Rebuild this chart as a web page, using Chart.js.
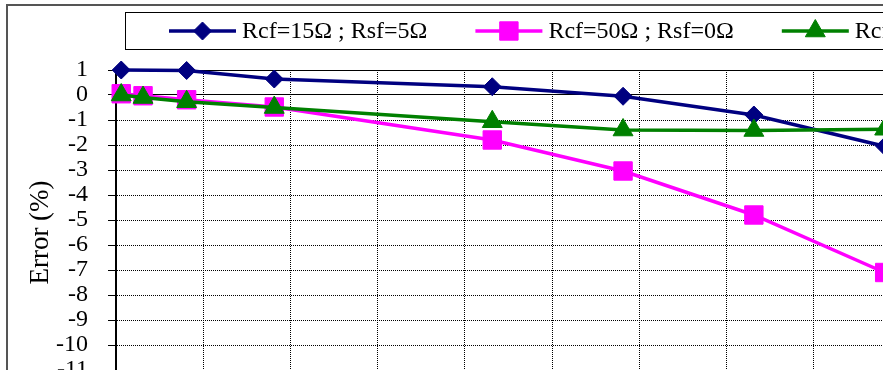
<!DOCTYPE html>
<html>
<head>
<meta charset="utf-8">
<script src="https://cdn.jsdelivr.net/npm/chart.js"></script>
<style>
  html, body { margin: 0; padding: 0; background: #fff; overflow: hidden; }
  canvas { display: block; }
</style>
</head>
<body>
<canvas id="errorChart" width="1009" height="440"></canvas>
<script>
// values: x along the horizontal axis, error in %
const xAll = [1.2, 6.2, 16.2, 36.3, 86.3, 116.3, 146.3, 176.3];
const xBlue = [1.2, 16.2, 36.3, 86.3, 116.3, 146.3, 176.3];
const errBlue = [1.0, 0.98, 0.64, 0.33, -0.05, -0.8, -2.05];
const errPink = [0.05, -0.03, -0.19, -0.48, -1.8, -3.04, -4.8, -7.1];
const errGreen = [0.0, -0.1, -0.27, -0.5, -1.07, -1.4, -1.42, -1.37];
const seriesLabels = ['Rcf=15\u03A9 ; Rsf=5\u03A9', 'Rcf=50\u03A9 ; Rsf=0\u03A9', 'Rcf=50\u03A9 ; Rsf=5\u03A9'];
const yMin = -12, yMax = 1, yStep = 1;
const xMin = 0, xMax = 200, xStep = 20;

const toPoints = (xs, ys) => xs.map((x, i) => ({ x: x, y: ys[i] }));

Chart.defaults.font.family = "'Liberation Serif', 'Times New Roman', serif";
Chart.defaults.color = '#000';

// white page + the grey frame of the chart object
const frame = {
    id: 'frame',
    beforeDraw(chart) {
        const ctx = chart.ctx;
        ctx.save();
        ctx.fillStyle = '#fff';
        ctx.fillRect(0, 0, chart.width, chart.height);
        ctx.strokeStyle = '#555';
        ctx.lineWidth = 2;
        ctx.strokeRect(7, 5, 3000, 3000);
        ctx.restore();
    }
};

// boxed legend on top, line + marker + label per series
const legendBox = {
    id: 'legendBox',
    afterDraw(chart) {
        const ctx = chart.ctx;
        ctx.save();
        ctx.strokeStyle = '#000';
        ctx.lineWidth = 1;
        ctx.strokeRect(125.5, 12.5, 1500, 37);
        ctx.font = "24px 'Liberation Serif', serif";
        ctx.textBaseline = 'middle';
        let x = 169;
        const y = 31;
        chart.data.datasets.forEach(ds => {
            ctx.strokeStyle = ds.borderColor;
            ctx.lineWidth = ds.borderWidth;
            ctx.beginPath();
            ctx.moveTo(x, y);
            ctx.lineTo(x + 67, y);
            ctx.stroke();
            ctx.fillStyle = ds.backgroundColor;
            ctx.lineWidth = 1;
            Chart.helpers.drawPoint(ctx, {
                pointStyle: ds.pointStyle, radius: ds.pointRadius, rotation: 0, borderWidth: 1
            }, x + 33.5, y);
            ctx.fillStyle = '#000';
            ctx.fillText(ds.label, x + 73, y + 1);
            x += 73 + ctx.measureText(ds.label).width + 48;
        });
        ctx.restore();
    }
};

const gridDash = c => (c.tick && (c.tick.value === 0 || c.tick.value === yMax)) ? [] : [1, 1];

new Chart(document.getElementById('errorChart').getContext('2d'), {
    type: 'line',
    data: {
        datasets: [{
            label: seriesLabels[0],
            data: toPoints(xBlue, errBlue),
            borderColor: '#000080',
            backgroundColor: '#000080',
            borderWidth: 3.5,
            pointStyle: 'rectRot',
            pointRadius: 9,
            pointBorderWidth: 1,
            clip: false,
            order: 2
        }, {
            label: seriesLabels[1],
            data: toPoints(xAll, errPink),
            borderColor: '#FF00FF',
            backgroundColor: '#FF00FF',
            borderWidth: 3.5,
            pointStyle: 'rect',
            pointRadius: 13,
            pointBorderWidth: 1,
            clip: false,
            order: 1
        }, {
            label: seriesLabels[2],
            data: toPoints(xAll, errGreen),
            borderColor: '#008000',
            backgroundColor: '#008000',
            borderWidth: 3.5,
            pointStyle: 'triangle',
            pointRadius: 11.5,
            pointBorderWidth: 1,
            clip: false,
            order: 0
        }]
    },
    options: {
        responsive: false,
        maintainAspectRatio: false,
        devicePixelRatio: 1,
        animation: false,
        layout: { padding: { top: 70, left: 0, right: 20, bottom: 5 } },
        plugins: {
            legend: { display: false },
            tooltip: { enabled: false }
        },
        scales: {
            x: {
                type: 'linear',
                min: xMin,
                max: xMax,
                ticks: { stepSize: xStep, autoSkip: false, font: { size: 24 }, color: '#000' },
                grid: { color: '#000', lineWidth: 1, tickLength: 8, tickColor: '#000', tickBorderDash: [] },
                border: { color: '#000', width: 2, dash: [1, 1] },
                afterFit: s => { s.height = 40; }
            },
            y: {
                min: yMin,
                max: yMax,
                ticks: { stepSize: yStep, autoSkip: false, font: { size: 24 }, color: '#000', padding: 20 },
                grid: { color: '#000', lineWidth: 1, tickLength: 8, tickColor: '#000', tickBorderDash: [] },
                border: { color: '#000', width: 2, dash: gridDash },
                title: {
                    display: true,
                    text: 'Error (%)',
                    font: { size: 27 },
                    color: '#000',
                    padding: { top: 25, bottom: 0 }
                },
                afterFit: s => { s.width = 116; }
            }
        }
    },
    plugins: [frame, legendBox]
});
</script>
</body>
</html>
